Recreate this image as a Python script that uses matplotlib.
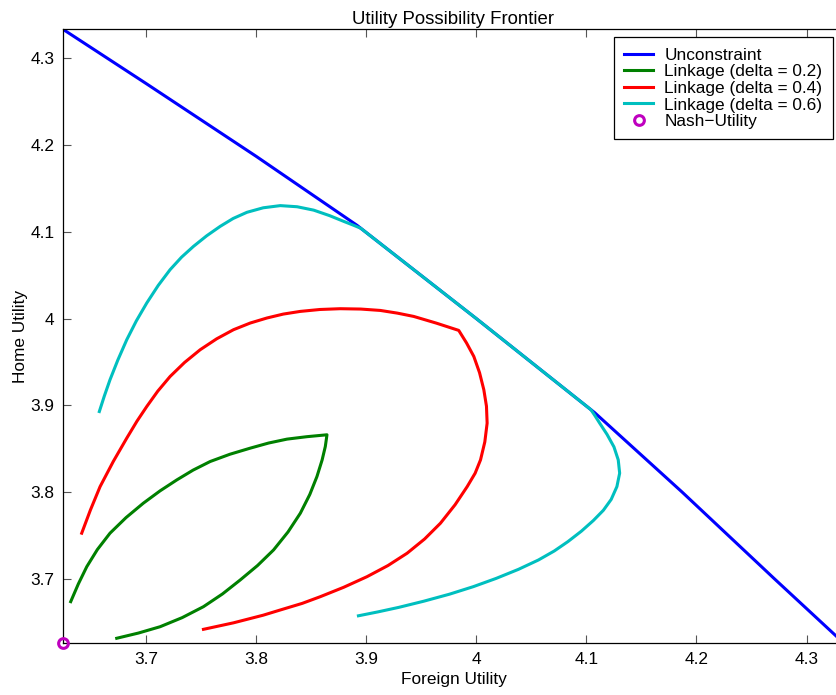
import matplotlib.pyplot as plt

plt.rcParams['font.family'] = ['Liberation Sans', 'DejaVu Sans']

# unconstrained frontier
unc_x = [3.6245, 3.70, 3.80, 3.8916, 4.00, 4.1075, 4.187, 4.2709, 4.334]
unc_y = [4.3334, 4.2709, 4.187, 4.1075, 4.00, 3.8916, 3.80, 3.70, 3.6258]

# linkage, delta = 0.2
d2_x = [3.6315, 3.6384, 3.6461, 3.6557, 3.6672, 3.6818, 3.6975, 3.7127, 3.7279,
        3.7427, 3.7582, 3.7762, 3.7946, 3.8113, 3.8280, 3.8460, 3.8643,
        3.8628, 3.8599, 3.8552, 3.8487, 3.8401, 3.8289, 3.8158, 3.8012, 3.7855,
        3.7694, 3.7521, 3.7328, 3.7127, 3.6930, 3.6733]
d2_y = [3.6738, 3.6941, 3.7141, 3.7338, 3.7527, 3.7707, 3.7873, 3.8015, 3.8141,
        3.8254, 3.8353, 3.8437, 3.8507, 3.8566, 3.8611, 3.8639, 3.8661,
        3.8526, 3.8371, 3.8180, 3.7973, 3.7757, 3.7541, 3.7334, 3.7154, 3.6988,
        3.6827, 3.6680, 3.6554, 3.6449, 3.6376, 3.6316]

# linkage, delta = 0.4
d4_x = [3.6415, 3.6494, 3.6582, 3.6702, 3.6824, 3.6917, 3.7006, 3.7106, 3.7218,
        3.7349, 3.7491, 3.7641, 3.7794, 3.7946, 3.8098, 3.8246, 3.8401, 3.8579,
        3.8764, 3.8950, 3.9128, 3.9283, 3.9431, 3.9636, 3.9840,
        3.9911, 3.9977, 4.0029, 4.0068, 4.0092, 4.0098, 4.0077, 4.0038, 3.9989,
        3.9917, 3.9807, 3.9674, 3.9530, 3.9371, 3.9197, 3.9007, 3.8794, 3.8582,
        3.8418, 3.8219, 3.8064, 3.7794, 3.7521]
d4_y = [3.7527, 3.7794, 3.8064, 3.8354, 3.8622, 3.8818, 3.8987, 3.9164, 3.9333,
        3.9494, 3.9641, 3.9767, 3.9872, 3.9949, 4.0007, 4.0052, 4.0083, 4.0105,
        4.0114, 4.0110, 4.0094, 4.0063, 4.0025, 3.9948, 3.9864,
        3.9719, 3.9564, 3.9377, 3.9180, 3.8990, 3.8795, 3.8579, 3.8372, 3.8218,
        3.8064, 3.7855, 3.7642, 3.7460, 3.7296, 3.7154, 3.7026, 3.6903, 3.6795,
        3.6718, 3.6642, 3.6582, 3.6494, 3.6419]

# linkage, delta = 0.6
d6_x = [3.6575, 3.6620, 3.6672, 3.6743, 3.6824, 3.6911, 3.7006, 3.7110, 3.7218,
        3.7322, 3.7430, 3.7550, 3.7673, 3.7791, 3.7916, 3.8064, 3.8219, 3.8372,
        3.8522, 3.8666, 3.8794, 3.8886, 3.8950, 4.0000,
        4.1041, 4.1075, 4.1121, 4.1187, 4.1250, 4.1289, 4.1302, 4.1277, 4.1225,
        4.1154, 4.1063, 4.0954, 4.0832, 4.0708, 4.0564, 4.0382, 4.0180, 3.9973,
        3.9756, 3.9522, 3.9295, 3.9106, 3.8929]
d6_y = [3.8929, 3.9106, 3.9295, 3.9522, 3.9756, 3.9973, 4.0180, 4.0382, 4.0564,
        4.0708, 4.0832, 4.0954, 4.1063, 4.1154, 4.1225, 4.1277, 4.1302, 4.1289,
        4.1250, 4.1187, 4.1121, 4.1075, 4.1041, 4.0000,
        3.8950, 3.8886, 3.8794, 3.8666, 3.8522, 3.8372, 3.8219, 3.8064, 3.7916,
        3.7791, 3.7673, 3.7550, 3.7430, 3.7322, 3.7218, 3.7110, 3.7006, 3.6911,
        3.6824, 3.6743, 3.6672, 3.6620, 3.6575]

nash_x = [3.6245]
nash_y = [3.6258]

fig = plt.figure(figsize=(8.37, 6.95), dpi=100)
ax = fig.add_axes([63/837, 51.7/695, 781/837, 614/695])

ax.plot(unc_x, unc_y, color='#0000ff', lw=2.2, label='Unconstraint')
ax.plot(d2_x, d2_y, color='#008000', lw=2.2, label='Linkage (delta = 0.2)')
ax.plot(d4_x, d4_y, color='#ff0000', lw=2.2, label='Linkage (delta = 0.4)')
ax.plot(d6_x, d6_y, color='#00bfbf', lw=2.2, label='Linkage (delta = 0.6)')
ax.plot(nash_x, nash_y, 'o', mfc='none', mec='#bf00bf', mew=2.2, ms=7,
        clip_on=False, zorder=5, label='Nash\u2212Utility')

ax.set_xlim(3.6245, 4.3340)
ax.set_ylim(3.6258, 4.3334)
ax.set_xticks([3.7, 3.8, 3.9, 4.0, 4.1, 4.2, 4.3])
ax.set_xticklabels(['3.7', '3.8', '3.9', '4', '4.1', '4.2', '4.3'])
ax.set_yticks([3.7, 3.8, 3.9, 4.0, 4.1, 4.2, 4.3])
ax.set_yticklabels(['3.7', '3.8', '3.9', '4', '4.1', '4.2', '4.3'])
ax.tick_params(direction='in', length=6, width=0.8, color='#555555',
               top=True, right=True, labelsize=12.4, pad=6)
for s in ax.spines.values():
    s.set_linewidth(0.9)

ax.set_title('Utility Possibility Frontier', fontsize=13.4, pad=4)
ax.set_xlabel('Foreign Utility', fontsize=12.4, labelpad=4)
ax.set_ylabel('Home Utility', fontsize=12.4, labelpad=2)

leg = ax.legend(loc='upper right', bbox_to_anchor=(832.7/837, 1 - 37.3/695),
                bbox_transform=fig.transFigure, borderaxespad=0, fontsize=12.4,
                fancybox=False, edgecolor='black', framealpha=1,
                handlelength=1.68, handletextpad=0.64, labelspacing=0.09,
                borderpad=0.6, numpoints=1)
leg.get_frame().set_linewidth(0.9)

fig.savefig('out.png', dpi=100)
